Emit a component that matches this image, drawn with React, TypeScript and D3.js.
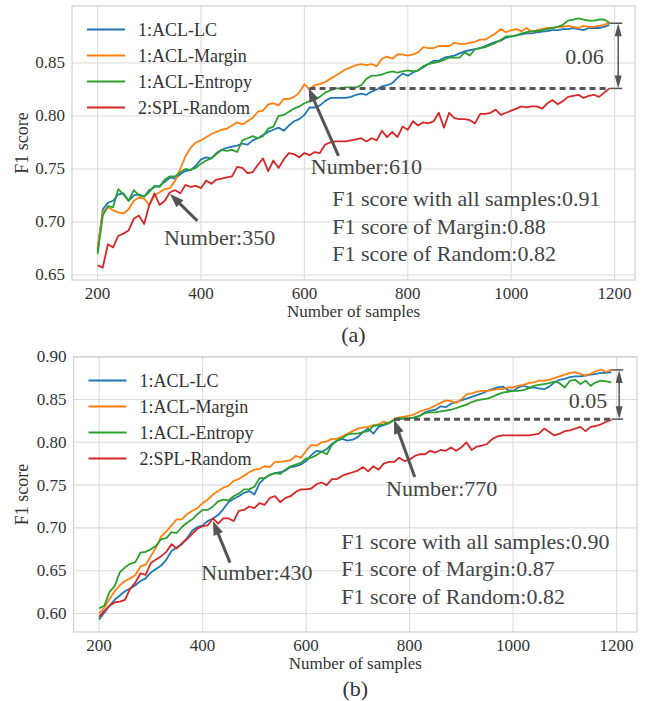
import React from 'react';
import * as d3 from 'd3';

// number of labelled samples (x axis), one point every 10 samples
const samples = d3.range(200, 1200, 10);

const seriesNames = ['1:ACL-LC', '1:ACL-Margin', '1:ACL-Entropy', '2:SPL-Random'];
const seriesColors = ['#1f77b4', '#ff7f0e', '#2ca02c', '#d62728'];
const xTicks = [200, 400, 600, 800, 1000, 1200];
const yTicksA = [0.65, 0.7, 0.75, 0.8, 0.85];
const yTicksB = [0.6, 0.65, 0.7, 0.75, 0.8, 0.85, 0.9];

// panel (a)
const aLC = [
  0.672, 0.712, 0.718, 0.72, 0.726, 0.727, 0.72, 0.725, 0.726, 0.724,
  0.73, 0.733, 0.734, 0.738, 0.742, 0.741, 0.745, 0.748, 0.749, 0.753,
  0.759, 0.761, 0.76, 0.765, 0.768, 0.77, 0.771, 0.772, 0.774, 0.773,
  0.777, 0.779, 0.782, 0.785, 0.787, 0.789, 0.786, 0.791, 0.795, 0.797,
  0.801, 0.808, 0.808, 0.81, 0.814, 0.817, 0.817, 0.817, 0.817, 0.818,
  0.82, 0.821, 0.82, 0.823, 0.825, 0.828, 0.829, 0.831, 0.836, 0.84,
  0.838, 0.841, 0.843, 0.846, 0.849, 0.852, 0.852, 0.855, 0.856, 0.857,
  0.859, 0.861, 0.862, 0.863, 0.864, 0.866, 0.868, 0.87, 0.871, 0.874,
  0.875, 0.876, 0.877, 0.878, 0.878, 0.879, 0.8795, 0.88, 0.881, 0.881,
  0.882, 0.882, 0.883, 0.882, 0.881, 0.883, 0.883, 0.883, 0.884, 0.886,
];
const aMargin = [
  0.676, 0.709, 0.714, 0.711, 0.709, 0.708, 0.712, 0.72, 0.723, 0.722,
  0.716, 0.725, 0.728, 0.731, 0.732, 0.739, 0.75, 0.762, 0.77, 0.775,
  0.777, 0.78, 0.783, 0.785, 0.787, 0.788, 0.791, 0.794, 0.792, 0.795,
  0.798, 0.804, 0.805, 0.811, 0.812, 0.81, 0.816, 0.816, 0.818, 0.822,
  0.83, 0.825, 0.829, 0.83, 0.832, 0.835, 0.838, 0.841, 0.844, 0.846,
  0.848, 0.849, 0.848, 0.849, 0.847, 0.854, 0.856, 0.854, 0.858, 0.858,
  0.857, 0.858, 0.86, 0.865, 0.864, 0.864, 0.866, 0.866, 0.866, 0.869,
  0.868, 0.868, 0.869, 0.87, 0.872, 0.872, 0.875, 0.878, 0.882, 0.879,
  0.881, 0.882, 0.88, 0.883, 0.879, 0.881, 0.882, 0.883, 0.883, 0.884,
  0.884, 0.885, 0.884, 0.883, 0.885, 0.884, 0.884, 0.885, 0.886, 0.888,
];
const aEntropy = [
  0.67, 0.706, 0.715, 0.714, 0.731, 0.726, 0.72, 0.73, 0.725, 0.724,
  0.728, 0.734, 0.733, 0.74, 0.743, 0.743, 0.747, 0.75, 0.749, 0.751,
  0.755, 0.758, 0.76, 0.764, 0.768, 0.767, 0.768, 0.766, 0.777, 0.779,
  0.781, 0.779, 0.781, 0.788, 0.79, 0.8, 0.801, 0.804, 0.807, 0.809,
  0.812, 0.814, 0.816, 0.818, 0.822, 0.824, 0.826, 0.826, 0.827, 0.827,
  0.827, 0.829, 0.835, 0.838, 0.838, 0.839, 0.841, 0.842, 0.841, 0.842,
  0.843, 0.842, 0.843, 0.847, 0.849, 0.85, 0.851, 0.853, 0.855, 0.855,
  0.855, 0.86, 0.857, 0.863, 0.864, 0.865, 0.867, 0.869, 0.872, 0.875,
  0.875, 0.876, 0.878, 0.879, 0.88, 0.88, 0.881, 0.882, 0.883, 0.884,
  0.886, 0.89, 0.891, 0.892, 0.891, 0.89, 0.89, 0.891, 0.891, 0.888,
];
const aRandom = [
  0.659, 0.657, 0.679, 0.676, 0.687, 0.689, 0.692, 0.703, 0.706, 0.698,
  0.716, 0.727, 0.716, 0.72, 0.728, 0.73, 0.727, 0.735, 0.733, 0.734,
  0.732, 0.739, 0.736, 0.74, 0.741, 0.742, 0.743, 0.752, 0.751, 0.746,
  0.747, 0.754, 0.76, 0.748, 0.758, 0.751, 0.759, 0.765, 0.764, 0.761,
  0.765, 0.763, 0.766, 0.765, 0.773, 0.775, 0.776, 0.776, 0.776, 0.777,
  0.778, 0.779, 0.776, 0.779, 0.777, 0.786, 0.78, 0.785, 0.78, 0.79,
  0.787, 0.795, 0.791, 0.794, 0.793, 0.795, 0.803, 0.789, 0.803, 0.798,
  0.797, 0.797, 0.796, 0.793, 0.802, 0.802, 0.803, 0.806, 0.801, 0.803,
  0.805, 0.807, 0.809, 0.808, 0.809, 0.809, 0.807, 0.812, 0.815, 0.811,
  0.814, 0.818, 0.819, 0.82, 0.817, 0.819, 0.82, 0.818, 0.822, 0.826,
];

// panel (b)
const bLC = [
  0.593, 0.601, 0.609, 0.616, 0.621, 0.626, 0.629, 0.633, 0.638, 0.641,
  0.648, 0.652, 0.656, 0.663, 0.673, 0.677, 0.681, 0.688, 0.697, 0.701,
  0.703, 0.708, 0.711, 0.715, 0.722, 0.73, 0.734, 0.737, 0.741, 0.743,
  0.739, 0.752, 0.758, 0.762, 0.764, 0.765, 0.767, 0.771, 0.772, 0.774,
  0.778, 0.785, 0.79, 0.789, 0.792, 0.798, 0.802, 0.804, 0.802, 0.803,
  0.806, 0.812, 0.816, 0.81, 0.818, 0.82, 0.822, 0.826, 0.827, 0.828,
  0.828, 0.829, 0.831, 0.835, 0.837, 0.838, 0.842, 0.841, 0.845, 0.847,
  0.849, 0.851, 0.853, 0.855, 0.857, 0.86, 0.862, 0.864, 0.865, 0.861,
  0.86, 0.864, 0.866, 0.864, 0.864, 0.863, 0.862, 0.865, 0.87, 0.873,
  0.874, 0.876, 0.877, 0.877, 0.878, 0.879, 0.88, 0.881, 0.881, 0.882,
];
const bMargin = [
  0.6, 0.607, 0.617, 0.626, 0.633, 0.638, 0.641, 0.645, 0.655, 0.657,
  0.667, 0.677, 0.69, 0.696, 0.703, 0.71, 0.71, 0.716, 0.72, 0.723,
  0.729, 0.733, 0.739, 0.743, 0.747, 0.749, 0.755, 0.757, 0.761, 0.765,
  0.768, 0.769, 0.772, 0.771, 0.777, 0.777, 0.778, 0.779, 0.784, 0.782,
  0.79, 0.797, 0.796, 0.8, 0.801, 0.804, 0.804, 0.807, 0.81, 0.813,
  0.816, 0.817, 0.818, 0.82, 0.821, 0.824, 0.822, 0.827, 0.829, 0.83,
  0.831, 0.833, 0.836, 0.838, 0.84, 0.843, 0.846, 0.849, 0.848, 0.846,
  0.85, 0.856, 0.857, 0.859, 0.86, 0.86, 0.861, 0.862, 0.862, 0.864,
  0.864, 0.866, 0.867, 0.869, 0.87, 0.872, 0.872, 0.873, 0.875, 0.877,
  0.879, 0.881, 0.882, 0.88, 0.878, 0.88, 0.883, 0.885, 0.882, 0.885,
];
const bEntropy = [
  0.606, 0.609, 0.625, 0.632, 0.648, 0.654, 0.658, 0.66, 0.671, 0.672,
  0.675, 0.679, 0.687, 0.688, 0.695, 0.694, 0.701, 0.706, 0.71, 0.716,
  0.721, 0.721, 0.725, 0.731, 0.733, 0.732, 0.737, 0.74, 0.745, 0.745,
  0.748, 0.758, 0.758, 0.762, 0.764, 0.763, 0.768, 0.772, 0.774, 0.776,
  0.781, 0.782, 0.785, 0.789, 0.786, 0.797, 0.802, 0.805, 0.809, 0.81,
  0.81, 0.812, 0.813, 0.819, 0.82, 0.821, 0.823, 0.826, 0.828, 0.828,
  0.828, 0.829, 0.831, 0.834, 0.835, 0.835, 0.836, 0.837, 0.838, 0.84,
  0.842, 0.844, 0.847, 0.849, 0.85, 0.851, 0.853, 0.856, 0.858, 0.859,
  0.86, 0.86, 0.861, 0.863, 0.866, 0.867, 0.868, 0.869, 0.871, 0.869,
  0.864, 0.872, 0.873, 0.868, 0.872, 0.866, 0.87, 0.872, 0.871, 0.87,
];
const bRandom = [
  0.596, 0.603, 0.609, 0.613, 0.614, 0.616, 0.629, 0.636, 0.647, 0.645,
  0.659, 0.663, 0.667, 0.672, 0.681, 0.676, 0.682, 0.687, 0.693, 0.699,
  0.702, 0.703, 0.711, 0.705, 0.711, 0.711, 0.708, 0.72, 0.721, 0.725,
  0.723, 0.729, 0.727, 0.735, 0.737, 0.73, 0.735, 0.737, 0.742, 0.745,
  0.745, 0.746, 0.751, 0.753, 0.75, 0.757, 0.757, 0.761, 0.763, 0.765,
  0.767, 0.771, 0.766, 0.772, 0.768, 0.775, 0.777, 0.777, 0.782, 0.778,
  0.78, 0.784, 0.786, 0.786, 0.79, 0.788, 0.791, 0.79, 0.794, 0.79,
  0.794, 0.8, 0.791, 0.795, 0.796, 0.798, 0.804, 0.807, 0.808, 0.808,
  0.808, 0.808, 0.808, 0.808, 0.809, 0.81, 0.816, 0.812, 0.808, 0.81,
  0.813, 0.814, 0.816, 0.818, 0.813, 0.818, 0.819, 0.821, 0.824, 0.826,
];

const infoA = ['F1 score with all samples:0.91', 'F1 score of Margin:0.88', 'F1 score of Random:0.82'];
const infoB = ['F1 score with all samples:0.90', 'F1 score of Margin:0.87', 'F1 score of Random:0.82'];

const FONT = "'Liberation Serif', 'DejaVu Serif', 'Times New Roman', serif";
const ANN = '#555555';

function Arrow({ x1, y1, x2, y2, sw = 3, hl = 14, hw = 10 }) {
  const dx = x2 - x1;
  const dy = y2 - y1;
  const len = Math.hypot(dx, dy);
  const ux = dx / len;
  const uy = dy / len;
  const bx = x2 - ux * hl;
  const by = y2 - uy * hl;
  const px = -uy * hw / 2;
  const py = ux * hw / 2;
  return (
    <g>
      <line x1={x1} y1={y1} x2={bx + ux * 2} y2={by + uy * 2} stroke={ANN} strokeWidth={sw} />
      <polygon points={`${x2},${y2} ${bx + px},${by + py} ${bx - px},${by - py}`} fill={ANN} />
    </g>
  );
}

function Label({ children, size, fill = '#333', ...rest }) {
  return (
    <text {...rest} dominantBaseline="central" fill={fill} style={{ fontFamily: FONT, fontSize: size }}>
      {children}
    </text>
  );
}

function Panel({ box, series, yTicks, caption, ann }) {
  const all = series.flat();
  const [xmin, xmax] = d3.extent(samples);
  const [ymin, ymax] = d3.extent(all);
  const xpad = (xmax - xmin) * 0.05;
  const ypad = (ymax - ymin) * 0.05;
  const x = d3.scaleLinear().domain([xmin - xpad, xmax + xpad]).range([box.left, box.right]);
  const y = d3.scaleLinear().domain([ymin - ypad, ymax + ypad]).range([box.bottom, box.top]);
  const line = d3.line<number>().x((_, i) => x(samples[i])).y((d) => y(d));
  const cx = (box.left + box.right) / 2;
  const cy = (box.top + box.bottom) / 2;

  return (
    <g>
      {xTicks.map((t) => (
        <line key={'gx' + t} x1={x(t)} x2={x(t)} y1={box.top} y2={box.bottom} stroke="#dcdcdc" strokeWidth={1.1} />
      ))}
      {yTicks.map((t) => (
        <line key={'gy' + t} x1={box.left} x2={box.right} y1={y(t)} y2={y(t)} stroke="#dcdcdc" strokeWidth={1.1} />
      ))}
      <rect x={box.left} y={box.top} width={box.right - box.left} height={box.bottom - box.top} fill="none" stroke="#d0d0d0" strokeWidth={1.2} />

      {xTicks.map((t) => (
        <Label key={'tx' + t} x={x(t)} y={box.bottom + 13} textAnchor="middle" size={17}>
          {t}
        </Label>
      ))}
      {yTicks.map((t) => (
        <Label key={'ty' + t} x={box.left - 7} y={y(t)} textAnchor="end" size={17}>
          {t.toFixed(2)}
        </Label>
      ))}
      <Label x={cx} y={box.bottom + 31} textAnchor="middle" size={17}>
        Number of samples
      </Label>
      <Label transform={`translate(22,${cy}) rotate(-90)`} textAnchor="middle" size={18}>
        F1 score
      </Label>
      <Label x={cx} y={box.bottom + ann.captionDy} textAnchor="middle" size={22}>
        {caption}
      </Label>

      {series.map((s, i) => (
        <path key={'s' + i} d={line(s)} fill="none" stroke={seriesColors[i]} strokeWidth={1.8} strokeLinejoin="round" />
      ))}

      {/* gap marker: dashed level + double arrow */}
      <line x1={x(ann.dashFrom)} x2={x(xmax)} y1={y(ann.low)} y2={y(ann.low)} stroke={ANN} strokeWidth={3} strokeDasharray="6,4" />
      <line x1={x(xmax)} x2={x(ann.gapX) + 4} y1={y(ann.low)} y2={y(ann.low)} stroke={ANN} strokeWidth={1.5} />
      <line x1={x(xmax)} x2={x(ann.gapX) + 4} y1={y(ann.high)} y2={y(ann.high)} stroke={ANN} strokeWidth={1.5} />
      <Arrow x1={x(ann.gapX)} y1={(y(ann.low) + y(ann.high)) / 2} x2={x(ann.gapX)} y2={y(ann.high)} sw={1.5} hl={13} hw={7} />
      <Arrow x1={x(ann.gapX)} y1={(y(ann.low) + y(ann.high)) / 2} x2={x(ann.gapX)} y2={y(ann.low)} sw={1.5} hl={13} hw={7} />
      <Label x={x(ann.gapText[0])} y={y(ann.gapText[1])} textAnchor="middle" size={22} fill="#444">
        {ann.gapLabel}
      </Label>

      {ann.arrows.map((a, i) => (
        <g key={'a' + i}>
          <Arrow x1={x(a.tail[0])} y1={y(a.tail[1])} x2={x(a.head[0])} y2={y(a.head[1])} />
          <Label x={x(a.text[0])} y={y(a.text[1])} textAnchor="middle" size={22} fill="#444">
            {a.label}
          </Label>
        </g>
      ))}

      {ann.info.map((s, i) => (
        <Label key={'i' + i} x={x(ann.infoAt[0])} y={y(ann.infoAt[1]) + i * 27.5} size={22} fill="#444">
          {s}
        </Label>
      ))}

      {seriesNames.map((n, i) => (
        <g key={'l' + i}>
          <line x1={box.left + 15} x2={box.left + 53} y1={box.top + 23.5 + i * 26} y2={box.top + 23.5 + i * 26} stroke={seriesColors[i]} strokeWidth={2} />
          <Label x={box.left + 66} y={box.top + 23.5 + i * 26} size={18}>
            {n}
          </Label>
        </g>
      ))}
    </g>
  );
}

const annA = {
  captionDy: 54,
  dashFrom: 610,
  low: 0.826,
  high: 0.8875,
  gapX: 1207,
  gapLabel: '0.06',
  gapText: [1142, 0.856],
  arrows: [
    { label: 'Number:350', head: [340, 0.7264], tail: [393, 0.701], text: [436, 0.6858] },
    { label: 'Number:610', head: [608, 0.8265], tail: [666, 0.7623], text: [720, 0.7528] },
  ],
  info: infoA,
  infoAt: [654, 0.7217],
};

const annB = {
  captionDy: 56,
  dashFrom: 770,
  low: 0.827,
  high: 0.8845,
  gapX: 1205,
  gapLabel: '0.05',
  gapText: [1145, 0.849],
  arrows: [
    { label: 'Number:430', head: [420, 0.708], tail: [453, 0.6594], text: [505, 0.6476] },
    { label: 'Number:770', head: [770, 0.8262], tail: [810, 0.7594], text: [862, 0.7465] },
  ],
  info: infoB,
  infoAt: [668, 0.6845],
};

export default function App() {
  return (
    <svg width={648} height={701} style={{ position: 'absolute', left: 0, top: 0, background: '#fff' }}>
      <Panel box={{ left: 72, right: 635, top: 6, bottom: 280 }} series={[aLC, aMargin, aEntropy, aRandom]} yTicks={yTicksA} caption="(a)" ann={annA} />
      <Panel box={{ left: 73.5, right: 637, top: 357, bottom: 632 }} series={[bLC, bMargin, bEntropy, bRandom]} yTicks={yTicksB} caption="(b)" ann={annB} />
    </svg>
  );
}
